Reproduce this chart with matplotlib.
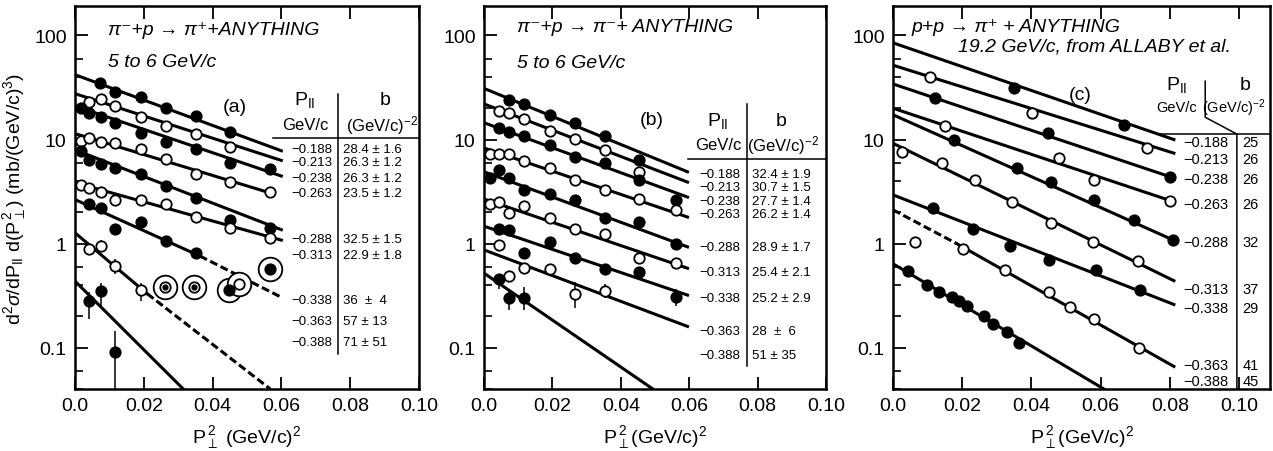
import matplotlib
matplotlib.use("Agg")
import matplotlib.pyplot as plt
from matplotlib.ticker import FixedLocator, NullFormatter

plt.rcParams['font.family'] = ['Liberation Sans', 'DejaVu Sans']
plt.rcParams['mathtext.fontset'] = 'custom'
plt.rcParams['mathtext.rm'] = 'Liberation Sans'
plt.rcParams['mathtext.it'] = 'Liberation Sans:italic'
plt.rcParams['mathtext.bf'] = 'Liberation Sans:bold'

# P_parallel values (rows), filled / open alternate
p_par = ['-0.188', '-0.213', '-0.238', '-0.263', '-0.288', '-0.313', '-0.338', '-0.363', '-0.388']
filled = [True, False, True, False, True, False, True, False, True]

# ---------------- panel (a): pi- p -> pi+ X, 5-6 GeV/c ----------------
a_b = ['28.4 ± 1.6', '26.3 ± 1.2', '26.3 ± 1.2', '23.5 ± 1.2', '32.5 ± 1.5',
       '22.9 ± 1.8', '36  ±  4', '57 ± 13', '71 ± 51']
a_fit_y0 = [42, 27.6, 21, 11.4, 7.96, 3.85, 2.65, 1.27, 0.436]
a_fit_x1 = [0.06, 0.06, 0.06, 0.0563, 0.06, 0.06, 0.06, 0.0568, 0.0315]
a_fit_y1 = [7.8, 6.3, 4.46, 3.1, 1.36, 1.08, 0.305, 0.04, 0.04]
a_dash_x = [None, None, None, None, None, None, 0.0363, 0.021, None]
a_dash_y = [None, None, None, None, None, None, 0.76, 0.33, None]
a_x = [
    [0.0073, 0.0116, 0.0191, 0.0264, 0.0352, 0.0452],
    [0.0042, 0.0075, 0.0116, 0.0191, 0.0264, 0.0352, 0.0452],
    [0.0017, 0.0042, 0.0075, 0.0116, 0.0191, 0.0264, 0.0352, 0.0452, 0.0566],
    [0.0017, 0.0042, 0.0075, 0.0116, 0.0191, 0.0264, 0.0352, 0.0452, 0.0566],
    [0.0017, 0.0042, 0.0075, 0.0116, 0.0191, 0.0264, 0.0352, 0.0452, 0.0566],
    [0.0017, 0.0042, 0.0075, 0.0116, 0.0191, 0.0264, 0.0352, 0.0452, 0.0566],
    [0.0042, 0.0075, 0.0116, 0.0191, 0.0264, 0.0352],
    [0.0042, 0.0075, 0.0116, 0.0191],
    [0.0042, 0.0075, 0.0116],
]
a_y = [
    [34.6, 28.7, 25.6, 20.1, 16.7, 11.9],
    [23.1, 24.3, 20.9, 16.3, 13.5, 11.4, 8.4],
    [20.1, 18.0, 16.3, 14.4, 11.5, 9.4, 8.2, 6.0, 5.2],
    [9.6, 10.3, 9.4, 9.3, 8.2, 6.5, 4.7, 3.9, 3.15],
    [7.8, 6.4, 5.85, 5.3, 4.7, 3.55, 2.75, 1.7, 1.4],
    [3.65, 3.4, 3.1, 2.6, 2.6, 2.4, 1.8, 1.42, 1.12],
    [2.39, 2.19, 1.37, 1.61, 1.07, 0.81],
    [0.88, 0.95, 0.61, 0.36],
    [0.28, 0.35, 0.09],
]
a_err_x = [0.0042, 0.0075, 0.0116, 0.0191, 0.0042, 0.0075, 0.0116]
a_err_lo = [0.80, 0.83, 0.51, 0.28, 0.19, 0.245, 0.04]
a_err_hi = [0.97, 1.09, 0.71, 0.42, 0.34, 0.42, 0.145]
# ringed (excluded) points
a_ring_x = [0.0262, 0.0345, 0.0447, 0.0476, 0.0566]
a_ring_y = [0.38, 0.38, 0.36, 0.41, 0.57]
a_ring_kind = ['dot', 'dot', 'filled', 'open', 'filled']

# ---------------- panel (b): pi- p -> pi- X, 5-6 GeV/c ----------------
b_b = ['32.4 ± 1.9', '30.7 ± 1.5', '27.7 ± 1.4', '26.2 ± 1.4', '28.9 ± 1.7',
       '25.4 ± 2.1', '25.2 ± 2.9', '28  ±  6', '51 ± 35']
b_fit_y0 = [31, 22, 14.5, 8.3, 4.9, 2.68, 1.47, 0.87, 0.52]
b_fit_x1 = [0.0595, 0.0595, 0.0595, 0.0595, 0.0595, 0.0595, 0.0595, 0.0595, 0.0494]
b_fit_y1 = [4.9, 3.9, 2.8, 1.8, 0.93, 0.58, 0.32, 0.16, 0.04]
b_x = [
    [0.0074, 0.0117, 0.0192, 0.0265, 0.0355, 0.0452],
    [0.0043, 0.0074, 0.0117, 0.0192, 0.0265, 0.0355, 0.0452],
    [0.0043, 0.0074, 0.0117, 0.0192, 0.0265, 0.0355, 0.0452, 0.0562],
    [0.0018, 0.0043, 0.0074, 0.0117, 0.0192, 0.0265, 0.0355, 0.0452, 0.0562],
    [0.0018, 0.0043, 0.0074, 0.0117, 0.0192, 0.0265, 0.0355, 0.0452, 0.0562],
    [0.0018, 0.0043, 0.0074, 0.0117, 0.0192, 0.0265, 0.0355, 0.0452, 0.0562],
    [0.0043, 0.0074, 0.0117, 0.0192, 0.0265, 0.0355, 0.0452, 0.0562],
    [0.0043, 0.0074, 0.0117, 0.0192, 0.0265, 0.0355],
    [0.0043, 0.0074, 0.0117],
]
b_y = [
    [24, 22, 17.3, 14.4, 10.7, 6.3],
    [18.9, 18, 15.8, 12.2, 10.1, 8.0, 4.9],
    [12.9, 11.7, 10.9, 8.8, 6.8, 5.9, 4.1, 2.65],
    [7.3, 7.2, 7.2, 6.2, 5.3, 4.1, 3.25, 2.7, 2.1],
    [4.3, 5.1, 4.3, 3.3, 3.0, 2.6, 1.75, 1.6, 1.0],
    [2.4, 2.5, 1.97, 2.28, 1.75, 1.37, 1.23, 0.73, 0.65],
    [1.37, 1.35, 0.82, 1.03, 0.73, 0.57, 0.53, 0.31],
    [0.97, 0.49, 0.58, 0.57, 0.33, 0.35],
    [0.46, 0.30, 0.30],
]
b_err_x = [0.0074, 0.0265, 0.0355, 0.0043, 0.0074, 0.0117, 0.0562]
b_err_lo = [0.43, 0.24, 0.30, 0.37, 0.23, 0.23, 0.25]
b_err_hi = [0.54, 0.43, 0.41, 0.50, 0.35, 0.38, 0.37]

# ---------------- panel (c): p p -> pi+ X, 19.2 GeV/c ----------------
c_b = ['25', '26', '26', '26', '32', '37', '29', '41', '45']
c_fit_y0 = [85, 51.8, 34.2, 20, 17.3, 9.2, 2.94, 2.11, 0.64]
c_fit_x1 = [0.0812, 0.0812, 0.080, 0.080, 0.0808, 0.0812, 0.0812, 0.0812, 0.061]
c_fit_y1 = [10, 7.4, 4.4, 2.6, 1.09, 0.44, 0.26, 0.066, 0.04]
c_dash_x = [None, None, None, None, None, None, None, 0.0184, None]
c_dash_y = [None, None, None, None, None, None, None, 1.0, None]
c_x = [
    [0.0349, 0.0668],
    [0.0107, 0.0402, 0.0735],
    [0.0122, 0.0447, 0.080],
    [0.0151, 0.0479, 0.058, 0.080],
    [0.0175, 0.0359, 0.0457, 0.058, 0.0697, 0.0808],
    [0.0025, 0.0141, 0.0238, 0.0344, 0.0457, 0.0578, 0.0708],
    [0.0117, 0.0231, 0.0339, 0.045, 0.0586, 0.0713],
    [0.0064, 0.0202, 0.0325, 0.045, 0.0511, 0.0581, 0.0711],
    [0.0044, 0.0099, 0.0134, 0.017, 0.0192, 0.0214, 0.0262, 0.0289, 0.033, 0.0363],
]
c_y = [
    [31, 13.9],
    [40, 18, 8.25],
    [25.3, 11.5, 4.4],
    [13.6, 6.6, 4.1, 2.55],
    [10, 5.3, 3.9, 2.6, 1.69, 1.09],
    [7.6, 5.9, 4.1, 2.53, 1.57, 1.04, 0.68],
    [2.22, 1.39, 0.956, 0.70, 0.56, 0.36],
    [1.03, 0.88, 0.56, 0.34, 0.245, 0.19, 0.10],
    [0.55, 0.40, 0.34, 0.31, 0.28, 0.25, 0.20, 0.17, 0.14, 0.11],
]

LW = 2.2
MS = 7.5


def setup(ax, xmax, ylabel=None):
    ax.set_yscale('log')
    ax.set_xlim(0, xmax)
    ax.set_ylim(0.04, 191)
    ax.yaxis.set_major_locator(FixedLocator([0.1, 1, 10, 100]))
    ax.set_yticklabels(['0.1', '1', '10', '100'])
    ax.yaxis.set_minor_locator(FixedLocator([m * d for d in [0.01, 0.1, 1, 10]
                                             for m in [2, 4, 6]]))
    ax.yaxis.set_minor_formatter(NullFormatter())
    ax.set_xticks([0, 0.02, 0.04, 0.06, 0.08, 0.10])
    ax.set_xticklabels(['0.0', '0.02', '0.04', '0.06', '0.08', '0.10'])
    ax.tick_params(which='major', direction='in', length=9, width=1.3,
                   labelsize=14, top=True, right=False, pad=6)
    ax.tick_params(which='minor', direction='in', length=6, width=1.2,
                   right=False)
    for s in ax.spines.values():
        s.set_linewidth(1.8)
    if ylabel:
        ax.set_ylabel(ylabel, fontsize=14, labelpad=4)


def draw_fits(ax, y0, x1, y1, dx=None, dy=None, dash_first=False):
    for i in range(len(y0)):
        if dx is not None and dx[i] is not None:
            st1 = dict(dashes=(2.6, 1.2)) if dash_first else {}
            st2 = {} if dash_first else dict(dashes=(2.6, 1.2))
            ax.plot([0, dx[i]], [y0[i], dy[i]], color='k', lw=LW, **st1)
            ax.plot([dx[i], x1[i]], [dy[i], y1[i]], color='k', lw=LW, **st2)
        else:
            ax.plot([0, x1[i]], [y0[i], y1[i]], color='k', lw=LW)


def draw_points(ax, xs, ys):
    for i in range(len(xs)):
        ax.plot(xs[i], ys[i], 'o', ms=MS, mec='k', mew=1.3,
                mfc='k' if filled[i] else 'white', zorder=5, clip_on=False)


def draw_table(ax, px_right, b_left, rows_y, b_vals, head, fs_head=12, fs_tab=9.5):
    for i in range(len(p_par)):
        ax.text(px_right, rows_y[i], p_par[i].replace('-', '−'), transform=ax.transAxes,
                ha='right', va='center', fontsize=fs_tab)
        ax.text(b_left, rows_y[i], b_vals[i], transform=ax.transAxes,
                ha='left', va='center', fontsize=fs_tab)
    (px_c, py1, py2, bx_c, bx2_c) = head
    ax.text(px_c, py1, r'P$_{\rm II}$', transform=ax.transAxes, ha='center',
            va='center', fontsize=14)
    ax.text(px_c, py2, 'GeV/c', transform=ax.transAxes, ha='center',
            va='center', fontsize=fs_head)
    ax.text(bx_c, py1, 'b', transform=ax.transAxes, ha='center',
            va='center', fontsize=14)
    ax.text(bx2_c, py2, r'(GeV/c)$^{-2}$', transform=ax.transAxes, ha='center',
            va='center', fontsize=fs_head, clip_on=False)


def tline(ax, xs, ys):
    ax.plot(xs, ys, color='k', lw=1.1, transform=ax.transAxes, clip_on=False)


fig = plt.figure(figsize=(12.73, 4.52), dpi=100)
axa = fig.add_axes([0.0589, 0.137, 0.2702, 0.847])
axb = fig.add_axes([0.3802, 0.137, 0.2687, 0.847])
axc = fig.add_axes([0.7015, 0.137, 0.2962, 0.847])

ylab = r'd$^2\sigma$/dP$_{\rm II}$ d(P$_\perp^{\,2}$) (mb/(GeV/c)$^3$)'
setup(axa, 0.10, ylab)
setup(axb, 0.10)
setup(axc, 0.109)
axa.set_xlabel(r'P$_\perp^{\,2}$ (GeV/c)$^2$', fontsize=14, labelpad=6)
axb.set_xlabel(r'P$_\perp^{\,2}$(GeV/c)$^2$', fontsize=14, labelpad=6)
axc.set_xlabel(r'P$_\perp^{\,2}$(GeV/c)$^2$', fontsize=14, labelpad=6)

# panel (a)
draw_fits(axa, a_fit_y0, a_fit_x1, a_fit_y1, a_dash_x, a_dash_y)
draw_points(axa, a_x, a_y)
axa.vlines(a_err_x, a_err_lo, a_err_hi, color='k', lw=1.1, zorder=4)
for x, y, k in zip(a_ring_x, a_ring_y, a_ring_kind):
    axa.plot(x, y, 'o', ms=17, mfc='white', mec='k', mew=1.3, zorder=4)
    axa.plot(x, y, 'o', ms=MS, mec='k', mew=1.3,
             mfc='k' if k == 'filled' else 'white', zorder=5)
    if k == 'dot':
        axa.plot(x, y, 'o', ms=3.5, color='k', zorder=6)
axa.text(0.096, 0.94, 'π⁻+p → π⁺+ANYTHING', transform=axa.transAxes,
         fontsize=14, style='italic', va='center')
axa.text(0.096, 0.856, '5 to 6 GeV/c', transform=axa.transAxes,
         fontsize=14, style='italic', va='center')
axa.text(0.465, 0.739, '(a)', transform=axa.transAxes, fontsize=14,
         ha='center', va='center')
draw_table(axa, 0.747, 0.779,
           [0.627, 0.592, 0.552, 0.512, 0.392, 0.350, 0.232, 0.177, 0.123],
           a_b, (0.669, 0.757, 0.692, 0.901, 0.892))
tline(axa, [0.576, 1.0], [0.656, 0.656])
tline(axa, [0.765, 0.765], [0.770, 0.091])

# panel (b)
draw_fits(axb, b_fit_y0, b_fit_x1, b_fit_y1)
draw_points(axb, b_x, b_y)
axb.vlines(b_err_x, b_err_lo, b_err_hi, color='k', lw=1.1, zorder=4)
axb.text(0.096, 0.948, 'π⁻+p → π⁻+ ANYTHING', transform=axb.transAxes,
         fontsize=14, style='italic', va='center')
axb.text(0.096, 0.854, '5 to 6 GeV/c', transform=axb.transAxes,
         fontsize=14, style='italic', va='center')
axb.text(0.491, 0.705, '(b)', transform=axb.transAxes, fontsize=14,
         ha='center', va='center')
draw_table(axb, 0.749, 0.783,
           [0.562, 0.527, 0.492, 0.457, 0.371, 0.305, 0.238, 0.151, 0.089],
           b_b, (0.684, 0.702, 0.640, 0.868, 0.874))
tline(axb, [0.596, 1.0], [0.600, 0.600])
tline(axb, [0.768, 0.768], [0.744, 0.060])

# panel (c)
draw_fits(axc, c_fit_y0, c_fit_x1, c_fit_y1, c_dash_x, c_dash_y, dash_first=True)
draw_points(axc, c_x, c_y)
axc.text(0.05, 0.948, 'p+p → π⁺ + ANYTHING', transform=axc.transAxes,
         fontsize=14, style='italic', va='center')
axc.text(0.172, 0.896, '19.2 GeV/c, from ALLABY et al.', transform=axc.transAxes,
         fontsize=14, style='italic', va='center')
axc.text(0.496, 0.77, '(c)', transform=axc.transAxes, fontsize=14,
         ha='center', va='center')
draw_table(axc, 0.889, 0.926,
           [0.645, 0.600, 0.548, 0.483, 0.384, 0.261, 0.211, 0.063, 0.021],
           c_b, (0.752, 0.796, 0.736, 0.935, 0.905), fs_head=10.5, fs_tab=10.5)
tline(axc, [0.70, 1.0], [0.666, 0.666])
tline(axc, [0.828, 0.828, 0.912, 0.912], [0.804, 0.710, 0.666, 0.0])

fig.savefig('out.png', dpi=100)
